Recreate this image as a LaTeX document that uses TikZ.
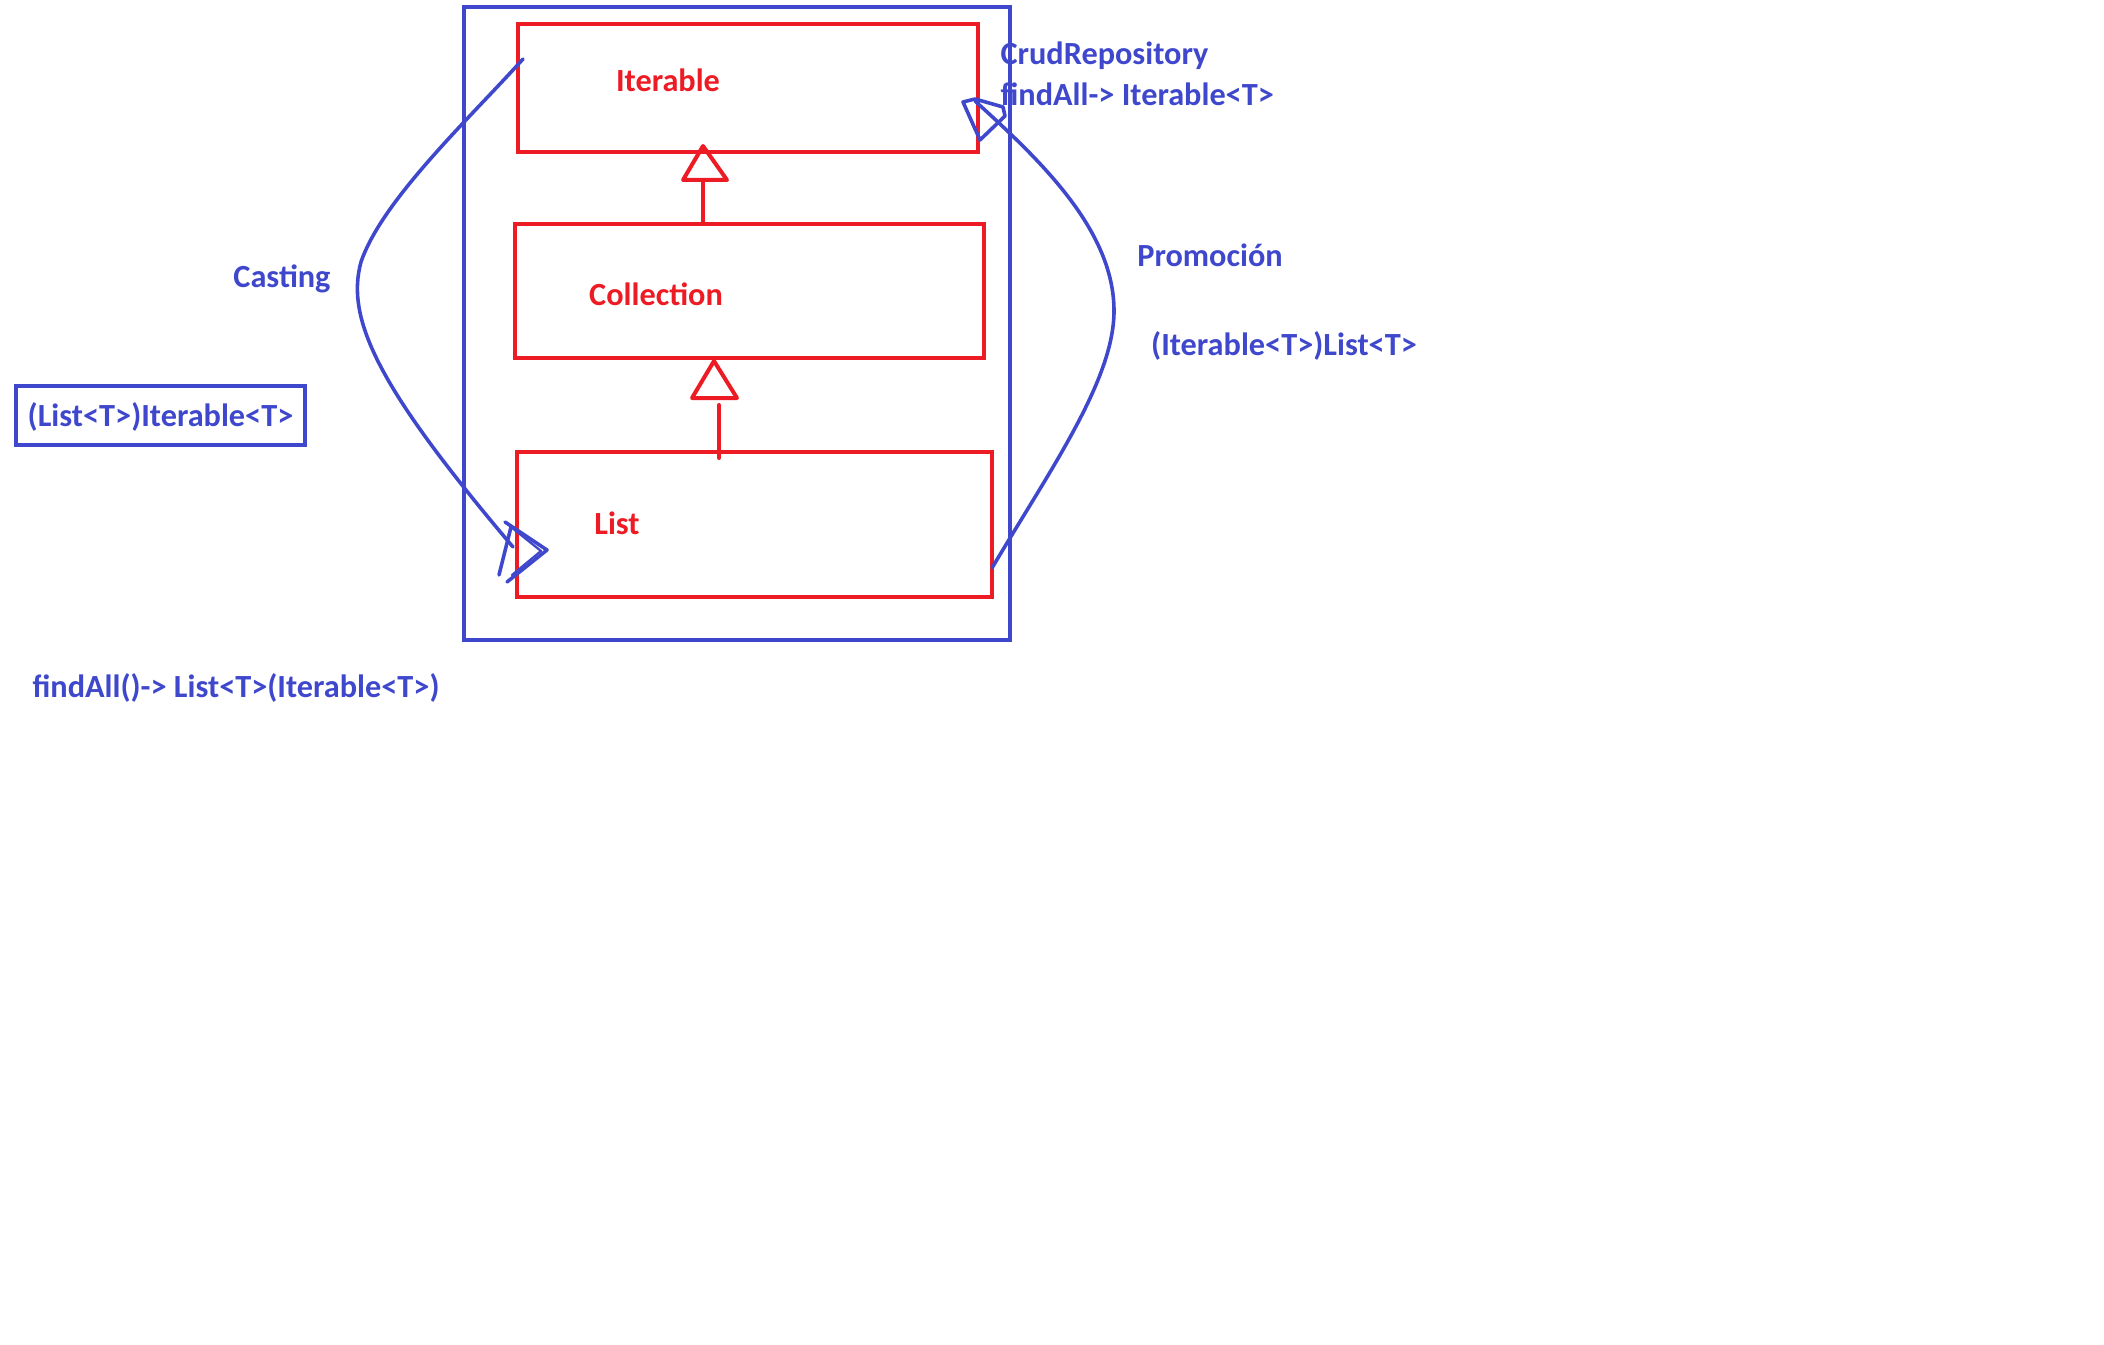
\documentclass[tikz,border=0pt]{standalone}
\usepackage{fontspec}
\setmainfont{Carlito}
\definecolor{pblue}{HTML}{3F48CC}
\definecolor{pred}{HTML}{ED1C24}
\begin{document}
\begin{tikzpicture}[x=0.35pt,y=-0.35pt,
  cls/.style={draw=pred,line width=1.4pt,rectangle,inner sep=0pt},
  ctext/.style={text=pred,font=\bfseries\fontsize{11.3}{12}\selectfont,inner sep=0pt},
  btext/.style={text=pblue,font=\bfseries\fontsize{11.3}{12}\selectfont,inner sep=0pt},
  curve/.style={draw=pblue,line width=1.25pt,line cap=round,line join=round},
  inh/.style={draw=pred,line width=1.4pt,line join=round}]
\useasboundingbox (0,0) rectangle (2104,1344);
\fill[white] (0,0) rectangle (2104,1344);
% outer blue frame
\node[draw=pblue,line width=1.6pt,inner sep=0pt,minimum width=546*0.35pt,minimum height=633*0.35pt] (frame) at (737,323.5) {};
% class boxes
\node[cls,minimum width=460*0.35pt,minimum height=128*0.35pt] (iter) at (748,88) {};
\node[cls,minimum width=469*0.35pt,minimum height=134*0.35pt] (coll) at (749.5,291) {};
\node[cls,minimum width=475*0.35pt,minimum height=145*0.35pt] (list) at (754.5,524.5) {};
\node[ctext] (titer) at (668,80) {Iterable};
\node[ctext] (tcoll) at (656,294) {Collection};
\node[ctext] (tlist) at (617,523) {List};
% inheritance arrows
\coordinate (a1) at (703,146);
\draw[inh] (a1) -- (683,180) -- (727,180) -- cycle;
\draw[inh] (703,180) -- (coll.north -| 703,0);
\coordinate (a2) at (714,361);
\draw[inh] (a2) -- (692,398) -- (737,398) -- cycle;
\draw[inh,line cap=round] (719,405) -- (719,458);
% labels
\node[btext,anchor=west] (crud) at (1000,56) {CrudRepository};
\node[btext,anchor=west] (fa1) at (1000,94) {findAll-> Iterable<T>};
\node[btext] (promo) at (1210,255) {Promoción};
\node[btext] (cast1) at (1284,346) {(Iterable<T>)List<T>};
\node[btext] (casting) at (282,279) {Casting};
\node[btext,draw=pblue,line width=1.4pt,minimum width=289*0.35pt,minimum height=59*0.35pt,text height=0.75em,text depth=0pt] (cast2) at (160.5,415.5) {(List<T>)Iterable<T>};
\node[btext] (fa2) at (236,688) {findAll()-> List<T>(Iterable<T>)};
% casting curve
\coordinate (cs) at (523,59);
\coordinate (ce) at (513,547);
\draw[curve] (cs) .. controls (470,118) and (382,200) .. (361,262)
  .. controls (345,320) and (380,390) .. (ce);
\draw[curve] (505,522) -- (547,550) -- (507,582);
\draw[curve,line width=0.8pt] (511,527) -- (541,551) -- (512,575);
\draw[curve] (499,575) -- (511,527);
% promocion curve
\coordinate (ps) at (992,568);
\coordinate (pe) at (975,101);
\draw[curve] (ps) .. controls (1050,470) and (1114,380) .. (1114,311)
  .. controls (1114,230) and (1040,160) .. (pe);
\draw[curve] (963,102) -- (980,140) -- (1005,116) -- (1003,107) -- (975,99) -- cycle;
\end{tikzpicture}
\end{document}
